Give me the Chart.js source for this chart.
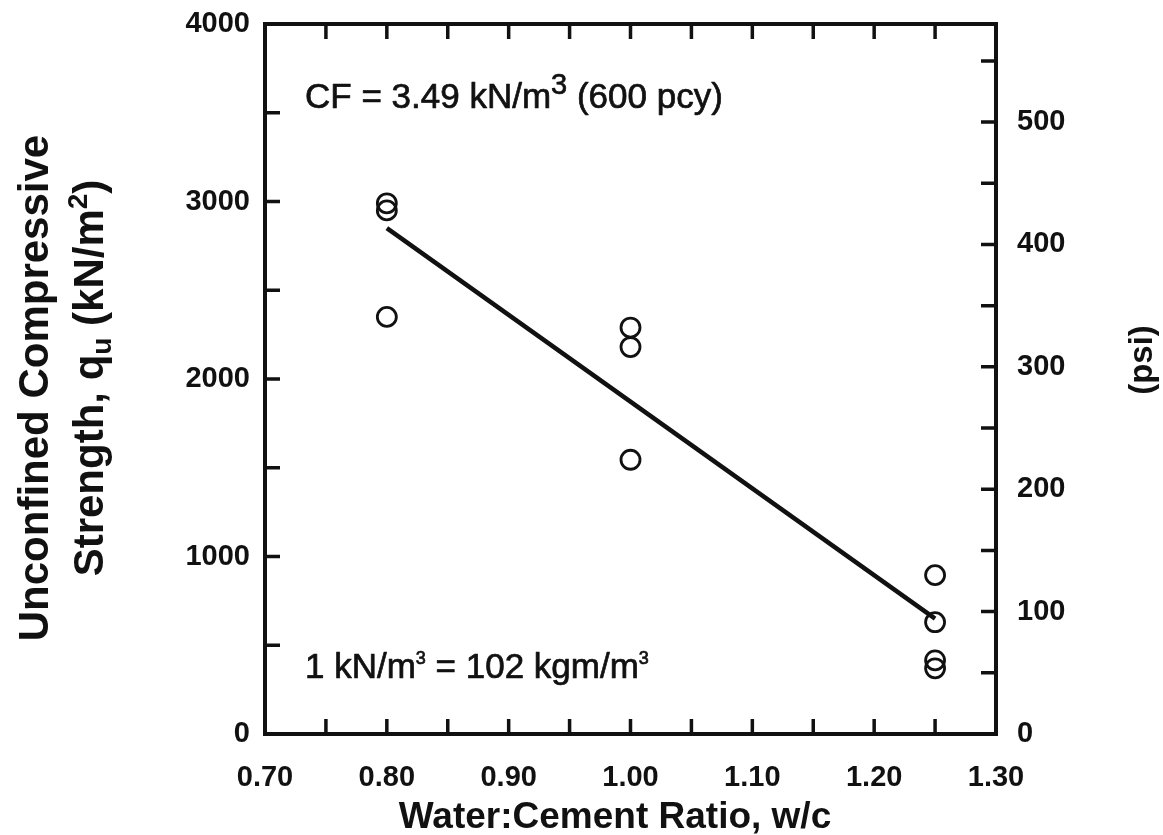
<!DOCTYPE html>
<html><head><meta charset="utf-8">
<script src="https://cdn.jsdelivr.net/npm/chart.js@4"></script>
<style>html,body{margin:0;padding:0;background:#fff}#wrap{width:1163px;height:835px;position:relative}</style>
</head><body><div id="wrap"><canvas id="c" width="1163" height="835"></canvas></div>
<script>
// ---- data ----
const wcRatio  = [0.80, 0.80, 0.80, 1.00, 1.00, 1.00, 1.25, 1.25, 1.25, 1.25];
const strength = [2990, 2950, 2350, 2290, 2180, 1545, 895, 630, 415, 370];
const fitX = [0.80, 1.25];
const fitY = [2850, 650];
const xTickValues = [0.70, 0.80, 0.90, 1.00, 1.10, 1.20, 1.30];
const xTickLabels = ['0.70', '0.80', '0.90', '1.00', '1.10', '1.20', '1.30'];
const xMinorTicks = [0.75, 0.80, 0.85, 0.90, 0.95, 1.00, 1.05, 1.10, 1.15, 1.20, 1.25];
const yTickValues = [0, 1000, 2000, 3000, 4000];
const yTickLabels = ['0', '1000', '2000', '3000', '4000'];
const yMinorTicks = [500, 1000, 1500, 2000, 2500, 3000, 3500];
const psiTickValues = [0, 100, 200, 300, 400, 500];
const psiTickLabels = ['0', '100', '200', '300', '400', '500'];
const psiMinorTicks = [50, 100, 150, 200, 250, 300, 350, 400, 450, 500, 550];
const KPA_PER_PSI = 6.894757;

const FONT = '"Liberation Sans", Arial, sans-serif';
const INK = '#111';

const frame = {
  id: 'frame',
  afterDraw(chart) {
    const ctx = chart.ctx, a = chart.chartArea;
    const xs = chart.scales.x, ys = chart.scales.y, ps = chart.scales.psi;
    ctx.save();
    ctx.strokeStyle = INK; ctx.lineWidth = 4; ctx.lineCap = 'square';
    ctx.strokeRect(a.left, a.top, a.right - a.left, a.bottom - a.top);
    ctx.lineWidth = 3.5; ctx.lineCap = 'butt';
    const L = 15;
    ctx.beginPath();
    xMinorTicks.forEach(v => { const x = xs.getPixelForValue(v);
      ctx.moveTo(x, a.bottom); ctx.lineTo(x, a.bottom - L);
      ctx.moveTo(x, a.top); ctx.lineTo(x, a.top + L); });
    yMinorTicks.forEach(v => { const y = ys.getPixelForValue(v);
      ctx.moveTo(a.left, y); ctx.lineTo(a.left + L, y); });
    psiMinorTicks.forEach(v => { const y = ps.getPixelForValue(v);
      ctx.moveTo(a.right, y); ctx.lineTo(a.right - L, y); });
    ctx.stroke();

    ctx.fillStyle = INK; ctx.textBaseline = 'alphabetic'; ctx.textAlign = 'left';
    ctx.lineWidth = 0.7; ctx.lineJoin = 'round';
    const run = (parts, x, y, heavy) => {
      parts.forEach(p => { ctx.font = p.f; ctx.fillText(p.t, x, y + (p.dy || 0));
        if (heavy) ctx.strokeText(p.t, x, y + (p.dy || 0));
        x += ctx.measureText(p.t).width; });
    };
    const big = '35px ' + FONT, sup = '29px ' + FONT, sm = '18px ' + FONT;
    run([{t: 'CF = 3.49 kN/m', f: big}, {t: '3', f: sup, dy: -14}, {t: ' (600 pcy)', f: big}], a.left + 40, a.top + 84, true);
    run([{t: '1 kN/m', f: big}, {t: '3', f: sm, dy: -14}, {t: ' = 102 kgm/m', f: big}, {t: '3', f: sm, dy: -14}], a.left + 40, a.bottom - 56, true);

    // axis titles
    const tf = 'bold 42px ' + FONT, tsub = 'bold 28px ' + FONT;
    ctx.save();
    ctx.translate(48, 388); ctx.rotate(-Math.PI / 2); ctx.textAlign = 'center';
    ctx.font = tf; ctx.fillText('Unconfined Compressive', 0, 0);
    ctx.restore();
    ctx.save();
    ctx.translate(103, 378); ctx.rotate(-Math.PI / 2);
    const parts = [{t: 'Strength, q', f: tf}, {t: 'u', f: tsub, dy: 8}, {t: ' (kN/m', f: tf}, {t: '2', f: tsub, dy: -16}, {t: ')', f: tf}];
    let w = 0; parts.forEach(p => { ctx.font = p.f; w += ctx.measureText(p.t).width; });
    ctx.textAlign = 'left'; run(parts, -w / 2, 0, false);
    ctx.restore();
    ctx.save();
    ctx.translate(1152, 360); ctx.rotate(-Math.PI / 2); ctx.textAlign = 'center';
    ctx.font = 'bold 33px ' + FONT; ctx.fillText('(psi)', 0, 0);
    ctx.restore();
    ctx.textAlign = 'center'; ctx.font = 'bold 37px ' + FONT;
    ctx.fillText('Water:Cement Ratio, w/c', 615, 828);
    ctx.restore();
  }
};

const tickFont = {family: FONT, size: 29, weight: 'bold'};
const noPad = s => { s.paddingTop = 0; s.paddingBottom = 0; };

new Chart(document.getElementById('c'), {
  type: 'scatter',
  data: {
    datasets: [
      {
        label: 'Tests',
        data: wcRatio.map((x, i) => ({x, y: strength[i]})),
        showLine: false,
        pointStyle: 'circle', pointRadius: 9.5, pointHoverRadius: 9.5,
        pointBorderWidth: 2.8, borderColor: INK, backgroundColor: 'rgba(0,0,0,0)'
      },
      {
        label: 'Fit',
        data: fitX.map((x, i) => ({x, y: fitY[i]})),
        showLine: true, pointRadius: 0, borderColor: INK, borderWidth: 4.5
      }
    ]
  },
  options: {
    responsive: false, animation: false, devicePixelRatio: 1,
    layout: {padding: {top: 24, left: 0, right: 0, bottom: 0}},
    plugins: {legend: {display: false}, tooltip: {enabled: false}},
    scales: {
      x: {
        type: 'linear', min: 0.70, max: 1.30,
        afterBuildTicks: s => { s.ticks = xTickValues.map(v => ({value: v})); },
        afterFit: s => { s.height = 101; s.paddingLeft = 0; s.paddingRight = 0; },
        ticks: {font: tickFont, color: INK, padding: 27, maxRotation: 0, autoSkip: false,
          callback: (v, i) => xTickLabels[i]},
        grid: {display: false, drawTicks: false}, border: {display: false}
      },
      y: {
        type: 'linear', position: 'left', min: 0, max: 4000,
        afterBuildTicks: s => { s.ticks = yTickValues.map(v => ({value: v})); },
        afterFit: s => { s.width = 265; noPad(s); },
        ticks: {font: tickFont, color: INK, padding: 15, autoSkip: false,
          callback: (v, i) => yTickLabels[i]},
        grid: {display: false, drawTicks: false}, border: {display: false}
      },
      psi: {
        type: 'linear', position: 'right', min: 0, max: 4000 / KPA_PER_PSI,
        afterBuildTicks: s => { s.ticks = psiTickValues.map(v => ({value: v})); },
        afterFit: s => { s.width = 167; noPad(s); },
        ticks: {font: tickFont, color: INK, padding: 21, autoSkip: false,
          callback: (v, i) => psiTickLabels[i]},
        grid: {display: false, drawTicks: false}, border: {display: false}
      }
    }
  },
  plugins: [frame]
});
</script></body></html>
